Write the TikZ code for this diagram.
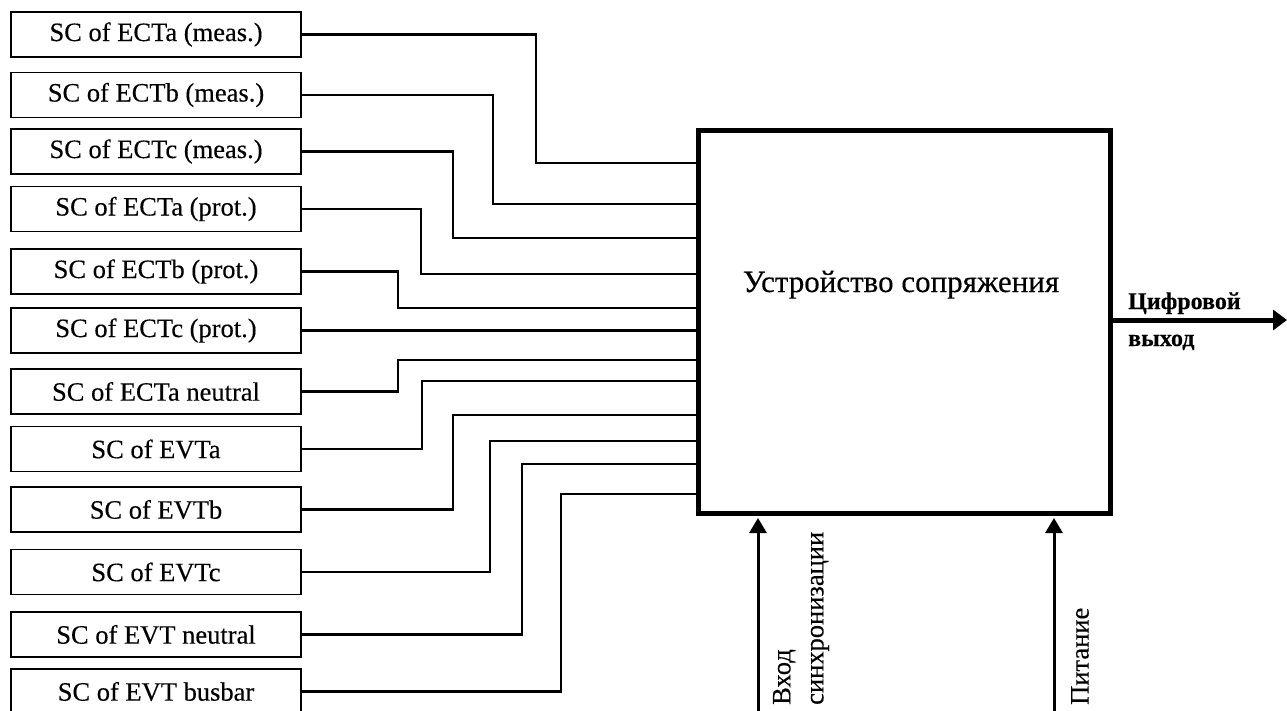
\documentclass[tikz,border=0pt]{standalone}
\usepackage{fontspec}
\setmainfont{Liberation Serif}[FakeBold=0.3]
\usetikzlibrary{arrows.meta,calc}
\begin{document}
\begin{tikzpicture}[x=1pt,y=-1pt,
  scbox/.style={draw,line width=1.8pt,minimum width=290pt,minimum height=45pt,inner sep=0pt,
    font=\fontsize{26.5}{30}\selectfont},
  wire/.style={line width=2.2pt},
  bigbox/.style={draw,line width=5pt,minimum width=412pt,minimum height=383pt,inner sep=0pt},
  uparrow/.style={line width=3pt,-{Triangle[length=15pt,width=17pt]}},
  outarrow/.style={line width=5pt,-{Triangle[length=14pt,width=20pt]}},
  vlabel/.style={rotate=90,anchor=west,align=left,inner sep=0pt,font=\fontsize{26.5}{33}\selectfont},
  olabel/.style={anchor=base west,inner sep=0pt,font=\bfseries\fontsize{24}{28}\selectfont}]
\useasboundingbox (0,0) rectangle (1287,710);
\fill[white] (0,0) rectangle (1287,710);

% left boxes
\node[scbox] (b1)  at (156,34.5)  {SC of ECTa (meas.)};
\node[scbox] (b2)  at (156,95)    {SC of ECTb (meas.)};
\node[scbox] (b3)  at (156,151.5) {SC of ECTc (meas.)};
\node[scbox] (b4)  at (156,209)   {SC of ECTa (prot.)};
\node[scbox] (b5)  at (156,271.5) {SC of ECTb (prot.)};
\node[scbox] (b6)  at (156,330.5) {SC of ECTc (prot.)};
\node[scbox] (b7)  at (156,391.5) {SC of ECTa neutral};
\node[scbox] (b8)  at (156,449)   {SC of EVTa};
\node[scbox] (b9)  at (156,509.5) {SC of EVTb};
\node[scbox] (b10) at (156,572)   {SC of EVTc};
\node[scbox] (b11) at (156,634.5) {SC of EVT neutral};
\node[scbox] (b12) at (156,691.5) {SC of EVT busbar};

% main box
\node[bigbox] (M) at (904,321.5) {};
\node[anchor=base,inner sep=0pt,font=\fontsize{31}{36}\selectfont] (ML) at (901,292) {Устройство сопряжения};

% connectors
\draw[wire] (b1.east)  -- (536,34.5)  -- (536,163) -- (M.west |- 0,163);
\draw[wire] (b2.east)  -- (493,95)    -- (493,204) -- (M.west |- 0,204);
\draw[wire] (b3.east)  -- (453,151.5) -- (453,238) -- (M.west |- 0,238);
\draw[wire] (b4.east)  -- (421,209)   -- (421,274) -- (M.west |- 0,274);
\draw[wire] (b5.east)  -- (398,271.5) -- (398,308) -- (M.west |- 0,308);
\draw[wire] (b6.east)  -- (M.west |- b6.east);
\draw[wire] (b7.east)  -- (398,391.5) -- (398,360) -- (M.west |- 0,360);
\draw[wire] (b8.east)  -- (422,449)   -- (422,381) -- (M.west |- 0,381);
\draw[wire] (b9.east)  -- (453,509.5) -- (453,415) -- (M.west |- 0,415);
\draw[wire] (b10.east) -- (490,572)   -- (490,441) -- (M.west |- 0,441);
\draw[wire] (b11.east) -- (522,634.5) -- (522,464) -- (M.west |- 0,464);
\draw[wire] (b12.east) -- (561,691.5) -- (561,494) -- (M.west |- 0,494);

% bottom inputs
\coordinate (s1) at (758,712);
\coordinate (s2) at (1054,712);
\draw[uparrow] (s1) -- ($(s1 |- M.south)+(0,2.5)$);
\draw[uparrow] (s2) -- ($(s2 |- M.south)+(0,2.5)$);
\node[vlabel] (L1) at (801,705) {Вход\\синхронизации};
\node[vlabel] (L2) at (1080,705) {Питание};

% output
\coordinate (out) at (1287,320);
\draw[outarrow] (M.east |- out) -- (out);
\node[olabel] (O1) at (1128,309) {Цифровой};
\node[olabel] (O2) at (1128,346) {выход};
\end{tikzpicture}
\end{document}
